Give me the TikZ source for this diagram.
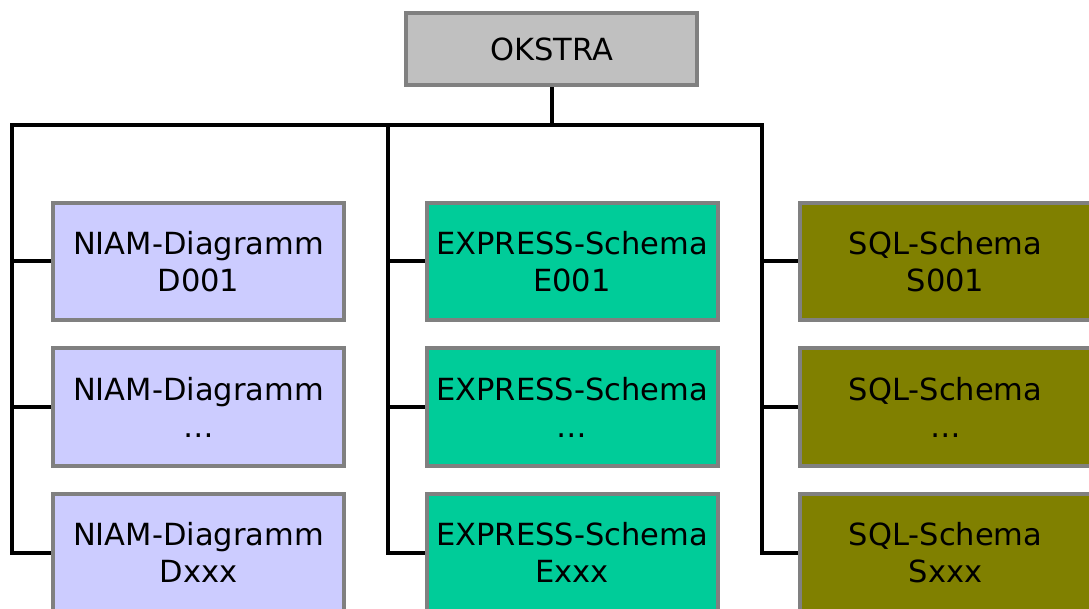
\documentclass[tikz,border=0pt]{standalone}
\usepackage{fontspec}
\setmainfont{DejaVu Sans}
\usetikzlibrary{backgrounds}
\definecolor{niam}{HTML}{CCCCFF}
\definecolor{expr}{HTML}{00CC99}
\definecolor{sqlc}{HTML}{808000}
\definecolor{okc}{HTML}{C0C0C0}
\definecolor{bord}{HTML}{808080}
\tikzset{
  box/.style={draw=bord, line width=4pt, minimum width=291pt, inner sep=1pt, align=center,
    font=\fontsize{30.5}{37}\selectfont, text=black},
  rowbox/.style={box, minimum height=117pt},
  niambox/.style={rowbox, fill=niam},
  exprbox/.style={rowbox, fill=expr},
  sqlbox/.style={rowbox, fill=sqlc},
  okbox/.style={box, fill=okc, minimum height=72pt},
  conn/.style={draw=black, line width=4pt, line cap=rect}
}
\begin{document}
\begin{tikzpicture}[x=1pt,y=-1pt]
\useasboundingbox (0,0) rectangle (1089,609);
\clip (0,0) rectangle (1089,609);
\node[okbox] (ok) at (551.5,49) {OKSTRA};
\node[niambox] (d1) at (198.5,261.5) {NIAM-Diagramm\\D001};
\node[niambox] (d2) at (198.5,407) {NIAM-Diagramm\\…};
\node[niambox] (d3) at (198.5,552.5) {NIAM-Diagramm\\Dxxx};
\node[exprbox] (e1) at (572,261.5) {EXPRESS-Schema\\E001};
\node[exprbox] (e2) at (572,407) {EXPRESS-Schema\\…};
\node[exprbox] (e3) at (572,552.5) {EXPRESS-Schema\\Exxx};
\node[sqlbox] (s1) at (945.5,261.5) {SQL-Schema\\S001};
\node[sqlbox] (s2) at (945.5,407) {SQL-Schema\\…};
\node[sqlbox] (s3) at (945.5,552.5) {SQL-Schema\\Sxxx};
\coordinate (busL) at (12,125);
\coordinate (busM) at (388,125);
\coordinate (busR) at (762,125);
\begin{scope}[on background layer]
\draw[conn] (ok.south) -- (ok.south |- busL);
\draw[conn] (busL) -- (busR);
\draw[conn] (busL) |- (d3.west);
\draw[conn] (busM) |- (e3.west);
\draw[conn] (busR) |- (s3.west);
\draw[conn] (d1.west -| busL) -- (d1.west);
\draw[conn] (d2.west -| busL) -- (d2.west);
\draw[conn] (e1.west -| busM) -- (e1.west);
\draw[conn] (e2.west -| busM) -- (e2.west);
\draw[conn] (s1.west -| busR) -- (s1.west);
\draw[conn] (s2.west -| busR) -- (s2.west);
\end{scope}
\end{tikzpicture}
\end{document}
